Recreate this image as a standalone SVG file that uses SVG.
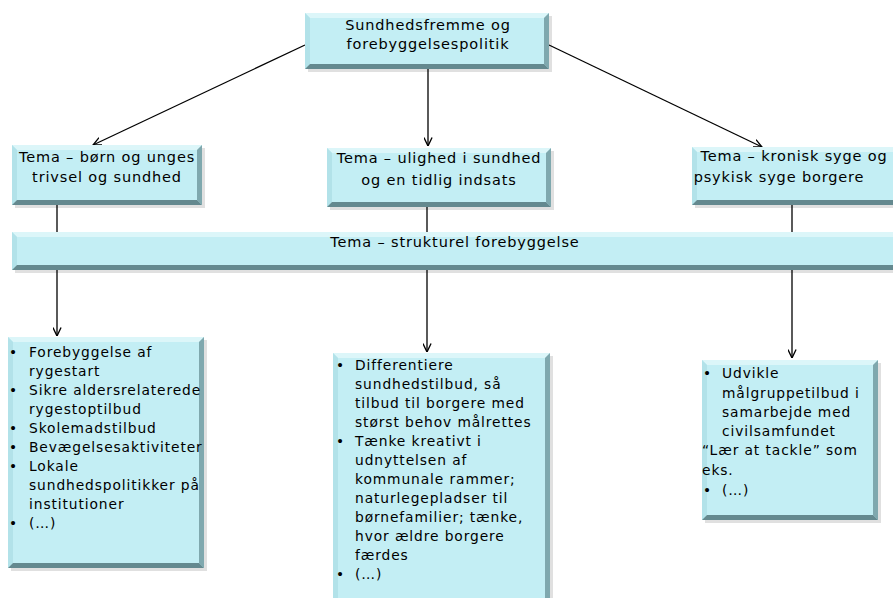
<svg xmlns="http://www.w3.org/2000/svg" width="893" height="598" viewBox="0 0 893 598">
<style>
.base{fill:#c3eef4}
.bt{fill:#dcf6f9}
.bl{fill:#b2e2e9}
.br{fill:#7fa8ae}
.bb{fill:#64898f}
.sh{fill:#000;opacity:0.12}
text{font-family:"DejaVu Sans","Liberation Sans",sans-serif;fill:#000}
.h{font-size:14.5px;text-anchor:middle;letter-spacing:0.85px}
.t{font-size:13.8px;letter-spacing:0.9px}
.c{stroke:#000;stroke-width:1.3;fill:none}
</style>
<defs>
<marker id="arr" viewBox="0 0 10 10" refX="9.5" refY="5" markerWidth="9" markerHeight="9" markerUnits="userSpaceOnUse" orient="auto">
<path d="M0,0.5 L9.5,5 L0,9.5" fill="none" stroke="#000" stroke-width="1.5"/>
</marker>
</defs>
<rect width="893" height="598" fill="#fff"/>
<g id="connectors">
<line class="c" x1="305" y1="45" x2="93" y2="145" marker-end="url(#arr)"/>
<line class="c" x1="428" y1="69" x2="428" y2="146" marker-end="url(#arr)"/>
<line class="c" x1="549" y1="45" x2="762" y2="147" marker-end="url(#arr)"/>
<line class="c" x1="57" y1="205" x2="57" y2="336" marker-end="url(#arr)"/>
<line class="c" x1="427" y1="207" x2="427" y2="352" marker-end="url(#arr)"/>
<line class="c" x1="792" y1="205" x2="792" y2="358" marker-end="url(#arr)"/>
</g>
<g id="top">
<rect class="sh" x="308" y="16" width="244" height="56"/>
<rect class="base" x="305" y="13" width="244" height="56"/>
<polygon class="bt" points="305,13 549,13 544,18 310,18"/>
<polygon class="bl" points="305,13 310,18 310,64 305,69"/>
<polygon class="br" points="549,13 549,69 544,64 544,18"/>
<polygon class="bb" points="305,69 549,69 544,64 310,64"/>
<text class="h" x="428" y="30">Sundhedsfremme og</text>
<text class="h" x="428" y="49">forebyggelsespolitik</text>
</g>
<g id="tema1">
<rect class="sh" x="15" y="148" width="190" height="60"/>
<rect class="base" x="12" y="145" width="190" height="60"/>
<polygon class="bt" points="12,145 202,145 197,150 17,150"/>
<polygon class="bl" points="12,145 17,150 17,200 12,205"/>
<polygon class="br" points="202,145 202,205 197,200 197,150"/>
<polygon class="bb" points="12,205 202,205 197,200 17,200"/>
<text class="h" x="107" y="162">Tema – børn og unges</text>
<text class="h" x="107" y="182">trivsel og sundhed</text>
</g>
<g id="tema2">
<rect class="sh" x="330" y="151" width="224" height="59"/>
<rect class="base" x="327" y="148" width="224" height="59"/>
<polygon class="bt" points="327,148 551,148 546,153 332,153"/>
<polygon class="bl" points="327,148 332,153 332,202 327,207"/>
<polygon class="br" points="551,148 551,207 546,202 546,153"/>
<polygon class="bb" points="327,207 551,207 546,202 332,202"/>
<text class="h" x="439" y="163">Tema – ulighed i sundhed</text>
<text class="h" x="439" y="185">og en tidlig indsats</text>
</g>
<g id="tema3">
<rect class="sh" x="695" y="150" width="206" height="58"/>
<rect class="base" x="692" y="147" width="206" height="58"/>
<polygon class="bt" points="692,147 898,147 893,152 697,152"/>
<polygon class="bl" points="692,147 697,152 697,200 692,205"/>
<polygon class="br" points="898,147 898,205 893,200 893,152"/>
<polygon class="bb" points="692,205 898,205 893,200 697,200"/>
<text class="h" x="794" y="161">Tema – kronisk syge og</text>
<text class="h" x="779" y="182">psykisk syge borgere</text>
</g>
<g id="tema4">
<rect class="sh" x="15" y="235" width="890" height="38"/>
<rect class="base" x="12" y="232" width="890" height="38"/>
<polygon class="bt" points="12,232 902,232 897,237 17,237"/>
<polygon class="bl" points="12,232 17,237 17,265 12,270"/>
<polygon class="bb" points="12,270 902,270 897,265 17,265"/>
<text class="h" x="455" y="247">Tema – strukturel forebyggelse</text>
</g>
<g id="liste1">
<rect class="sh" x="11" y="340" width="196" height="231"/>
<rect class="base" x="8" y="337" width="196" height="231"/>
<polygon class="bt" points="8,337 204,337 199,342 13,342"/>
<polygon class="bl" points="8,337 13,342 13,563 8,568"/>
<polygon class="br" points="204,337 204,568 199,563 199,342"/>
<polygon class="bb" points="8,568 204,568 199,563 13,563"/>
<g class="t">
<text x="9" y="357">•</text><text x="29" y="357">Forebyggelse af</text>
<text x="29" y="376">rygestart</text>
<text x="9" y="395">•</text><text x="29" y="395">Sikre aldersrelaterede</text>
<text x="29" y="414">rygestoptilbud</text>
<text x="9" y="433">•</text><text x="29" y="433">Skolemadstilbud</text>
<text x="9" y="452">•</text><text x="29" y="452">Bevægelsesaktiviteter</text>
<text x="9" y="471">•</text><text x="29" y="471">Lokale</text>
<text x="29" y="490">sundhedspolitikker på</text>
<text x="29" y="509">institutioner</text>
<text x="9" y="528">•</text><text x="29" y="528">(…)</text>
</g>
</g>
<g id="liste2">
<rect class="sh" x="336" y="356" width="217" height="250"/>
<rect class="base" x="333" y="353" width="217" height="250"/>
<polygon class="bt" points="333,353 550,353 545,358 338,358"/>
<polygon class="bl" points="333,353 338,358 338,603 333,603"/>
<polygon class="br" points="550,353 550,603 545,603 545,358"/>
<g class="t">
<text x="336" y="370">•</text><text x="355" y="370">Differentiere</text>
<text x="355" y="389">sundhedstilbud, så</text>
<text x="355" y="408">tilbud til borgere med</text>
<text x="355" y="427">størst behov målrettes</text>
<text x="336" y="446">•</text><text x="355" y="446">Tænke kreativt i</text>
<text x="355" y="465">udnyttelsen af</text>
<text x="355" y="484">kommunale rammer;</text>
<text x="355" y="503">naturlegepladser til</text>
<text x="355" y="522">børnefamilier; tænke,</text>
<text x="355" y="541">hvor ældre borgere</text>
<text x="355" y="560">færdes</text>
<text x="336" y="579">•</text><text x="355" y="579">(…)</text>
</g>
</g>
<g id="liste3">
<rect class="sh" x="705" y="363" width="176" height="160"/>
<rect class="base" x="702" y="360" width="176" height="160"/>
<polygon class="bt" points="702,360 878,360 873,365 707,365"/>
<polygon class="bl" points="702,360 707,365 707,515 702,520"/>
<polygon class="br" points="878,360 878,520 873,515 873,365"/>
<polygon class="bb" points="702,520 878,520 873,515 707,515"/>
<g class="t">
<text x="703" y="378">•</text><text x="722" y="378">Udvikle</text>
<text x="722" y="398">målgruppetilbud i</text>
<text x="722" y="417">samarbejde med</text>
<text x="722" y="436">civilsamfundet</text>
<text x="702" y="455">“Lær at tackle” som</text>
<text x="702" y="475">eks.</text>
<text x="703" y="495">•</text><text x="722" y="495">(…)</text>
</g>
</g>
</svg>
